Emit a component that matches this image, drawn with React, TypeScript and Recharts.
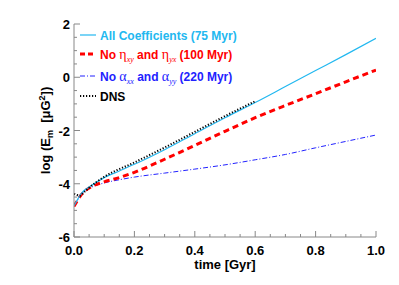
import React from 'react';
import { LineChart, Line, XAxis, YAxis } from 'recharts';

const tAll = [0, 0.025, 0.06, 0.1, 0.15, 0.2, 0.3, 0.4, 0.5, 0.6, 0.7, 0.8, 0.9, 1.0];
const vAll = [-4.83, -4.35, -4.05, -3.77, -3.52, -3.27, -2.72, -2.12, -1.52, -0.95, -0.35, 0.25, 0.85, 1.46];

const tNoEta = [0, 0.025, 0.06, 0.1, 0.15, 0.2, 0.3, 0.4, 0.5, 0.6, 0.7, 0.8, 0.9, 1.0];
const vNoEta = [-4.85, -4.4, -4.1, -3.93, -3.77, -3.57, -3.08, -2.56, -2.03, -1.52, -1.06, -0.62, -0.17, 0.27];

const tNoAlpha = [0, 0.025, 0.06, 0.1, 0.15, 0.2, 0.3, 0.4, 0.5, 0.6, 0.7, 0.8, 0.9, 1.0];
const vNoAlpha = [-4.85, -4.4, -4.12, -3.97, -3.85, -3.75, -3.6, -3.45, -3.29, -3.1, -2.9, -2.65, -2.41, -2.17];

const tDns = [0, 0.01, 0.02, 0.03, 0.05, 0.1, 0.2, 0.3, 0.4, 0.5, 0.6];
const vDns = [-4.38, -4.42, -4.45, -4.35, -4.15, -3.74, -3.2, -2.64, -2.05, -1.46, -0.9];

const xMajor = [0, 0.2, 0.4, 0.6, 0.8, 1.0];
const xTicks = [0, 0.05, 0.1, 0.15, 0.2, 0.25, 0.3, 0.35, 0.4, 0.45, 0.5, 0.55, 0.6, 0.65, 0.7, 0.75, 0.8, 0.85, 0.9, 0.95, 1.0];
const yMajor = [-6, -4, -2, 0, 2];
const yTicks = [-6, -5.5, -5, -4.5, -4, -3.5, -3, -2.5, -2, -1.5, -1, -0.5, 0, 0.5, 1, 1.5, 2];

const toData = (ts: number[], vs: number[]) => ts.map((t, i) => ({ t, v: vs[i] }));
const dataAll = toData(tAll, vAll);
const dataNoEta = toData(tNoEta, vNoEta);
const dataNoAlpha = toData(tNoAlpha, vNoAlpha);
const dataDns = toData(tDns, vDns);

const CYAN = '#22B8F0';
const RED = '#FF0000';
const BLUE = '#2222FF';
const AXIS = '#888888';
const FONT = '"Liberation Sans", Arial, sans-serif';
const SERIF = '"Liberation Serif", "Times New Roman", serif';

const isMajor = (v: number, majors: number[]) => majors.some((m) => Math.abs(m - v) < 1e-6);

const BottomTick = (props: any) => {
  const { x, y, payload } = props;
  const major = isMajor(payload.value, xMajor);
  return (
    <g>
      <line x1={x} y1={y} x2={x} y2={y - (major ? 6 : 3)} stroke={AXIS} strokeWidth={1} />
      {major && (
        <text x={x} y={y + 18} textAnchor="middle" fontFamily={FONT} fontWeight="bold" fontSize={13} fill="#000">
          {payload.value.toFixed(1)}
        </text>
      )}
    </g>
  );
};

const TopTick = (props: any) => {
  const { x, y, payload } = props;
  const major = isMajor(payload.value, xMajor);
  return <line x1={x} y1={y} x2={x} y2={y + (major ? 6 : 3)} stroke={AXIS} strokeWidth={1} />;
};

const LeftTick = (props: any) => {
  const { x, y, payload } = props;
  const major = isMajor(payload.value, yMajor);
  return (
    <g>
      <line x1={x} y1={y} x2={x + (major ? 6 : 3)} y2={y} stroke={AXIS} strokeWidth={1} />
      {major && (
        <text x={x - 4} y={y + 5} textAnchor="end" fontFamily={FONT} fontWeight="bold" fontSize={13} fill="#000">
          {String(payload.value)}
        </text>
      )}
    </g>
  );
};

const RightTick = (props: any) => {
  const { x, y, payload } = props;
  const major = isMajor(payload.value, yMajor);
  return <line x1={x} y1={y} x2={x - (major ? 6 : 3)} y2={y} stroke={AXIS} strokeWidth={1} />;
};

const XLabel = (props: any) => {
  const vb = props.viewBox || {};
  const cx = vb.x + vb.width / 2;
  return (
    <text x={cx} y={vb.y + 32} textAnchor="middle" fontFamily={FONT} fontWeight="bold" fontSize={13} fill="#000">
      time [Gyr]
    </text>
  );
};

const YLabel = (props: any) => {
  const vb = props.viewBox || {};
  const cy = vb.y + vb.height / 2;
  const cx = 50;
  return (
    <text
      x={cx}
      y={cy}
      transform={`rotate(-90, ${cx}, ${cy})`}
      textAnchor="middle"
      fontFamily={FONT}
      fontWeight="bold"
      fontSize={13}
      fill="#000"
    >
      <tspan>log (E</tspan>
      <tspan fontSize={9} dy={3}>m</tspan>
      <tspan dy={-3}>{'\u00a0\u00a0[\u03bcG'}</tspan>
      <tspan fontSize={9} dy={-5}>2</tspan>
      <tspan dy={5}>])</tspan>
    </text>
  );
};

const legendRows = [
  { y: 35, color: CYAN, dash: undefined as string | undefined, width: 1.2, kind: 'plain', pre: 'All Coefficients (75 Myr)' },
  { y: 54, color: RED, dash: '5 3', width: 3, kind: 'eta' },
  { y: 76, color: BLUE, dash: '5 2 1 2', width: 1, kind: 'alpha' },
  { y: 96, color: '#000', dash: '1.2 1.8', width: 2, kind: 'dns' },
];

const LegendOverlay = () => (
  <svg width={399} height={285} style={{ position: 'absolute', left: 0, top: 0, pointerEvents: 'none' }}>
    {legendRows.map((r, i) => (
      <g key={i}>
        <line x1={80} y1={r.y} x2={96} y2={r.y} stroke={r.color} strokeWidth={r.width} strokeDasharray={r.dash} />
        <text x={100} y={r.y + 4.5} fontFamily={FONT} fontWeight="bold" fontSize={12} fill={r.color}>
          {r.kind === 'plain' && <tspan>{r.pre}</tspan>}
          {r.kind === 'eta' && (
            <>
              <tspan>No </tspan>
              <tspan fontFamily={SERIF} fontWeight="normal" fontSize={14}>{'\u03b7'}</tspan>
              <tspan fontFamily={SERIF} fontWeight="normal" fontStyle="italic" fontSize={8} dy={3}>xy</tspan>
              <tspan dy={-3}> and </tspan>
              <tspan fontFamily={SERIF} fontWeight="normal" fontSize={14}>{'\u03b7'}</tspan>
              <tspan fontFamily={SERIF} fontWeight="normal" fontStyle="italic" fontSize={8} dy={3}>yx</tspan>
              <tspan dy={-3}> (100 Myr)</tspan>
            </>
          )}
          {r.kind === 'alpha' && (
            <>
              <tspan>No </tspan>
              <tspan fontFamily={SERIF} fontWeight="normal" fontSize={14}>{'\u03b1'}</tspan>
              <tspan fontFamily={SERIF} fontWeight="normal" fontStyle="italic" fontSize={8} dy={3}>xx</tspan>
              <tspan dy={-3}> and </tspan>
              <tspan fontFamily={SERIF} fontWeight="normal" fontSize={14}>{'\u03b1'}</tspan>
              <tspan fontFamily={SERIF} fontWeight="normal" fontStyle="italic" fontSize={8} dy={3}>yy</tspan>
              <tspan dy={-3}> (220 Myr)</tspan>
            </>
          )}
          {r.kind === 'dns' && <tspan fill="#000">DNS</tspan>}
        </text>
      </g>
    ))}
  </svg>
);

export default function App() {
  return (
    <div style={{ position: 'absolute', left: 0, top: 0, width: 399, height: 285, background: '#fff' }}>
      <LineChart width={399} height={285} margin={{ top: 24, right: 23, bottom: 0, left: 0 }}>
        <XAxis
          dataKey="t"
          type="number"
          domain={[0, 1]}
          ticks={xTicks}
          interval={0}
          height={48}
          tickSize={0}
          tickMargin={0}
          tickLine={false}
          axisLine={{ stroke: AXIS }}
          tick={<BottomTick />}
          label={<XLabel />}
          allowDataOverflow
        />
        <XAxis
          xAxisId="top"
          orientation="top"
          dataKey="t"
          type="number"
          domain={[0, 1]}
          ticks={xTicks}
          interval={0}
          height={0}
          tickSize={0}
          tickMargin={0}
          tickLine={false}
          axisLine={{ stroke: AXIS }}
          tick={<TopTick />}
          allowDataOverflow
        />
        <YAxis
          type="number"
          domain={[-6, 2]}
          ticks={yTicks}
          interval={0}
          width={74}
          tickSize={0}
          tickMargin={0}
          tickLine={false}
          axisLine={{ stroke: AXIS }}
          tick={<LeftTick />}
          label={<YLabel />}
          allowDataOverflow
        />
        <YAxis
          yAxisId="right"
          orientation="right"
          type="number"
          domain={[-6, 2]}
          ticks={yTicks}
          interval={0}
          width={0}
          tickSize={0}
          tickMargin={0}
          tickLine={false}
          axisLine={{ stroke: AXIS }}
          tick={<RightTick />}
          allowDataOverflow
        />
        <Line data={dataNoAlpha} dataKey="v" type="monotone" stroke={BLUE} strokeWidth={1} strokeDasharray="5 2 1 2" dot={false} isAnimationActive={false} />
        <Line data={dataNoEta} dataKey="v" type="monotone" stroke={RED} strokeWidth={3} strokeDasharray="6 4" dot={false} isAnimationActive={false} />
        <Line data={dataAll} dataKey="v" type="monotone" stroke={CYAN} strokeWidth={1.2} dot={false} isAnimationActive={false} />
        <Line data={dataDns} dataKey="v" type="monotone" stroke="#000" strokeWidth={2} strokeDasharray="1.2 1.8" dot={false} isAnimationActive={false} />
      </LineChart>
      <LegendOverlay />
    </div>
  );
}
